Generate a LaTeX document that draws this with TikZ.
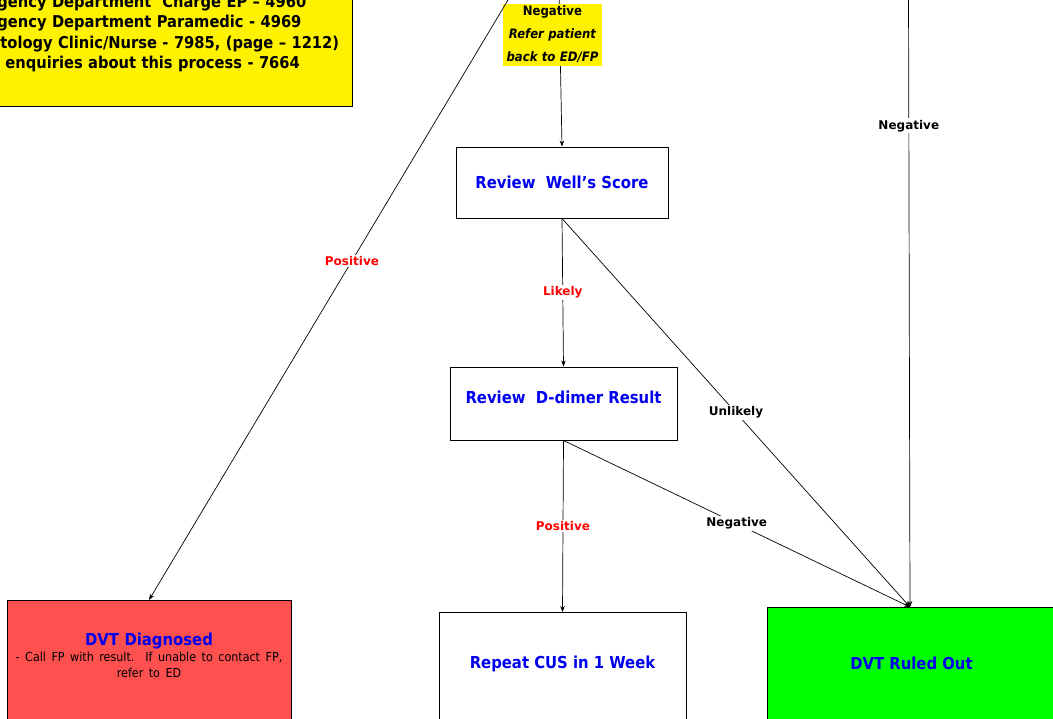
\documentclass[tikz,border=0pt]{standalone}
\usepackage{fontspec}
\setmainfont{DejaVu Sans Condensed}
\newfontfamily\lblfont{DejaVu Sans}
\usetikzlibrary{arrows.meta}
\definecolor{diagred}{RGB}{255,80,80}
\definecolor{ruledgreen}{RGB}{0,255,0}
\definecolor{titleblue}{RGB}{0,0,238}

\begin{document}
\begin{tikzpicture}[x=1pt, y=-1pt,
  box/.style={draw, line width=0.9pt, inner sep=0pt, align=center, text height=12pt, text depth=0pt,
    font=\fontsize{16.5}{16}\selectfont\bfseries, text=titleblue},
  flow/.style={-{Stealth[length=6pt,width=4.5pt]}, line width=0.7pt},
  lbl/.style={fill=white, inner sep=1.5pt, font=\lblfont\fontsize{12}{14}\selectfont\bfseries},
  redlbl/.style={lbl, text=red}]
\useasboundingbox (0,0) rectangle (1053,719);
\clip (0,0) rectangle (1053,719);

% contact numbers
\node[draw, line width=0.9pt, fill=yellow, anchor=north west, inner sep=0pt, text width=355pt, align=left,
  text height=20pt, text depth=99pt, font=\fontsize{16.3}{20.3}\selectfont\bfseries] (contacts) at (-3,-13)
  {\mbox{gency Department\ \ Charge EP – 4960}\\
   \mbox{gency Department Paramedic - 4969}\\
   \mbox{\hspace*{3pt}tology Clinic/Nurse - 7985, (page – 1212)}\\
   \mbox{\hspace*{8pt}enquiries about this process - 7664}};

% boxes
\node[box, minimum width=212pt, minimum height=71pt] (well) at (562,182.5) {Review\ \ Well’s Score};
\node[box, minimum width=227pt, minimum height=73pt, text depth=13pt] (dimer) at (563.5,403.5) {Review\ \ D-dimer Result};
\node[box, fill=diagred, anchor=north, text width=284pt, text height=45pt, text depth=120pt] (diagnosed) at (149,600)
  {DVT Diagnosed\\{\fontsize{12.4}{16}\selectfont\mdseries\color{black}- Call FP with result.\ \ If unable to contact FP,\\refer to ED}};
\node[box, anchor=north, minimum width=247pt, text height=56pt, text depth=120pt] (cus) at (562.5,612) {Repeat CUS in 1 Week};
\node[box, fill=ruledgreen, anchor=north west, minimum width=288pt, text height=62pt, text depth=120pt] (ruledout) at (767,607) {DVT Ruled Out};

\coordinate (topleft) at (514,-10);
\coordinate (topmid) at (559,-10);
\coordinate (topright) at (908.5,-10);
\coordinate (ruledin) at ([xshift=143pt]ruledout.north west);

% connectors
\draw[flow] (topmid) -- node[pos=0.287, xshift=-7.4pt, fill=yellow, inner sep=0pt, text width=99pt, align=center,
  text height=12pt, text depth=50pt, font=\fontsize{13}{23}\selectfont\bfseries] (referlbl)
  {Negative\\\itshape Refer patient\\\itshape back to ED/FP} (well.north);
\draw[flow] (topleft) -- node[pos=0.444, redlbl] (positivelbl) {Positive} (diagnosed.north);
\draw[flow] (topright) -- node[pos=0.22, lbl] (negativelbl) {Negative} (ruledin);
\draw[flow] (well.south) -- node[redlbl] (likelylbl) {Likely} (dimer.north);
\draw[flow] (well.south) -- node[lbl] (unlikelylbl) {Unlikely} (ruledin);
\draw[flow] (dimer.south) -- node[redlbl] (dimerposlbl) {Positive} (cus.north);
\draw[flow] (dimer.south) -- node[lbl] (dimerneglbl) {Negative} (ruledin);
\end{tikzpicture}
\end{document}
